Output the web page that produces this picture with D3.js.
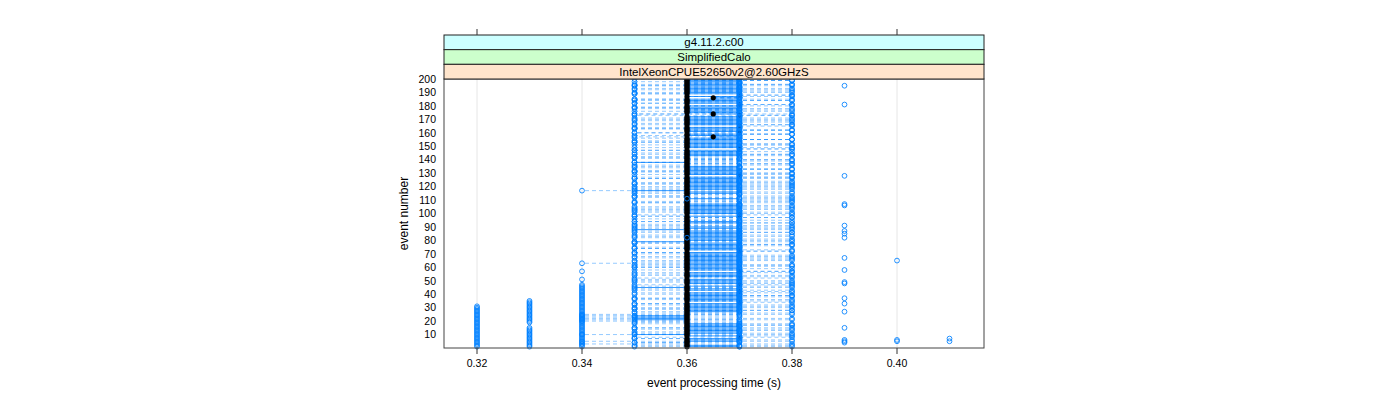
<!DOCTYPE html>
<html><head><meta charset="utf-8">
<script src="https://cdn.jsdelivr.net/npm/d3@7"></script>
<style>body{margin:0;background:#fff} svg{display:block} text{font-family:"Liberation Sans",Arial,sans-serif}</style>
</head><body><svg id="c" width="1400" height="400"></svg>
<script>
const stripLabels = ["g4.11.2.c00", "SimplifiedCalo", "IntelXeonCPUE52650v2@2.60GHzS"];
const stripColors = ["#ccffff", "#ccffcc", "#ffe5cc"];
const xTicks = [0.32, 0.34, 0.36, 0.38, 0.40];
const xTickLabels = ["0.32", "0.34", "0.36", "0.38", "0.40"];
const yTicks = [10,20,30,40,50,60,70,80,90,100,110,120,130,140,150,160,170,180,190,200];
const xTitle = "event processing time (s)";
const yTitle = "event number";

// times in hundredths of a second, index 0 = event 1
const refTime = [
36,36,36,36,36,36,36,37,36,36, 36,36,36,36,36,36,36,36,36,36,
36,36,36,36,36,36,36,36,36,36, 36,36,36,37,36,36,36,36,36,36,
36,37,36,36,36,36,37,36,36,36, 36,37,36,36,36,36,37,36,36,36,
36,36,36,36,36,36,36,36,36,36, 36,37,36,36,36,36,36,36,36,36,
36,36,36,36,36,36,36,36,36,36, 36,36,36,36,36,36,36,36,37,36,
36,36,36,36,36,36,36,36,36,36, 36,36,36,36,36,36,36,36,36,36,
36,36,36,36,36,36,36,37,36,36, 36,36,36,36,36,36,36,36,36,36,
36,36,36,36,36,36,36,37,36,36, 36,36,36,36,36,36,36.5,36,36,37,
36,36,36,36,37,36,36,36,36,36, 36,36,37,36.5,36,36,36,36,36,36,
37,36,36,36,36,36.5,36,37,36,36, 36,36,36,36,36,36,36,36,36,36];

const solidRun = [
37,37,null,null,37,37,37,37,37,35, 37,37,37,37,37,37,37,37,null,null,
35,35,35,35,null,null,37,37,37,37, 37,37,37,37,37,37,37,37,37,37,
37,37,37,37,35,37,37,37,37,37, 37,37,37,37,37,37,37,37,37,37,
37,37,37,37,37,37,37,37,37,37, 37,37,37,37,37,37,37,37,35,37,
37,37,37,37,37,37,37,35,37,37, null,null,37,37,null,null,null,37,37,37,
37,37,37,37,37,37,37,null,null,null, 37,null,null,null,37,37,35,37,37,37,
37,37,37,37,37,37,37,37,37,37, 37,37,37,37,37,null,null,35,null,null,
null,null,37,37,37,37,37,37,37,37, 37,37,37,37,37,37,37,37,37,37,
37,37,37,37,37,37,37,37,37,37, 37,37,37,37,37,37,37,37,37,37,
37,37,37,37,37,37,37,37,37,37, 37,37,37,37,37,37,37,37,37,37];

const dashRunA = [
35,38,34,37,34,38,35,37,38,34, 37,35,38,37,35,37,38,35,37,34,
34,34,34,34,34,37,35,38,37,35, 38,37,35,37,38,35,37,37,38,35,
37,38,35,37,37,38,35,37,38,37, 35,37,38,35,37,37,38,35,37,35,
38,37,34,35,37,38,37,35,38,37, 35,37,38,37,35,37,38,35,37,38,
37,36,35,38,37,35,37,38,35,37, 38,35,37,37,38,35,37,35,38,37,
35,37,38,35,37,38,37,35,37,38, 36,35,38,37,35,37,34,38,35,37,
38,35,37,38,37,35,38,37,35,38, 37,35,38,37,35,38,37,35,37,38,
35,37,38,35,37,38,35,37,38,37, 35,38,37,35,38,37,35,37,38,35,
37,38,35,37,38,35,37,38,37,35, 38,37,35,38,37,35,37,38,35,37,
38,35,37,38,35,37,38,37,35,38, 37,35,38,37,35,38,37,35,38,37];

const dashRunB = [
37,37,38,35,37,37,35,38,37,35, 38,37,37,35,38,37,37,38,35,37,
37,38,37,35,37,38,37,37,35,38, 37,35,37,38,37,37,35,38,37,37,
38,37,37,35,38,37,37,38,37,35, 37,38,37,37,35,38,37,37,38,37,
35,38,37,37,35,37,38,37,37,35, 37,38,37,35,37,37,38,37,35,37,
38,37,37,35,37,38,37,37,38,35, 37,37,38,35,37,37,38,37,35,37,
38,37,35,37,38,37,37,35,38,37, 37,38,35,37,37,38,37,35,37,38,
37,35,38,37,37,35,38,37,37,38, 35,37,38,37,37,35,38,37,38,37,
37,35,37,38,37,37,35,38,37,37, 38,37,35,37,38,37,37,35,38,37,
37,38,37,35,37,38,37,37,35,38, 37,37,38,35,37,38,37,37,35,37,
38,37,37,35,38,37,37,38,37,35, 37,38,37,37,35,38,37,37,38,37];

const dashRunC = [
38,35,null,35,38,null,37,35,null,38, 35,null,37,38,35,null,38,37,null,35,
38,null,35,37,38,35,null,38,35,37, null,38,35,null,37,38,35,null,38,37,
35,null,38,37,null,35,38,null,35,38, null,35,37,38,null,35,38,37,null,35,
38,35,null,37,38,null,35,38,37,null, 35,38,null,35,37,38,null,35,38,37,
null,35,38,37,null,38,35,null,37,38, 35,null,38,35,37,null,38,35,null,38,
37,35,null,38,35,37,null,38,35,null, 38,37,35,null,38,35,null,37,38,35,
null,38,35,37,null,38,35,null,38,37, 35,null,38,35,37,null,38,35,null,38,
37,35,null,38,35,37,null,38,35,null, 38,37,35,null,38,35,null,37,38,35,
null,38,35,37,null,38,35,null,38,37, 35,null,38,35,37,null,38,35,null,38,
37,35,null,38,35,37,null,38,35,null, 38,37,35,null,38,35,37,null,38,35];

// point-only runs (no connecting lines), index 0 = event 1
const fastRun32 = [32,32,32,32,32,32,32,32,32,32, 32,32,32,32,32,32,32,32,32,32, 32,32,32,32,32,32,32,32,32,32, 32];
const fastRun33 = [33,33,33,33,33,33,33,33,33,33, 33,33,33,33,33,null,null,null,33,33, 33,33,33,33,33,33,33,33,33,33, 33,33,33,33,33];
const fastRun34 = [34,34,34,34,34,34,34,34,34,34, 34,34,34,34,34,34,34,34,34,34, 34,34,34,34,34,34,34,34,34,34,
  34,34,34,34,34,34,34,34,34,34, 34,34,34,34,34,34,34,null,null,null, 34,null,null,null,null,null,34];
const outlierEvents = [195,181,128,107,106,91,87,85,82,67,58,49,48,37,33,27,15,6,5,4, 65,6,5, 7,5];
const outlierTimes  = [39,39,39,39,39,39,39,39,39,39,39,39,39,39,39,39,39,39,39,39, 40,40,40, 41,41];

const svg = d3.select("#c");
const L = 444, R = 984, T = 79, B = 348;
const x = d3.scaleLinear().domain([0.32 - 33/5250, 0.40 + 87/5250]).range([L, R]);
const y = d3.scaleLinear().domain([0, 200]).range([B, T]);
const blue = "#0080ff";

// grid
svg.append("g").selectAll("line").data(xTicks).join("line")
  .attr("x1", d => x(d)).attr("x2", d => x(d)).attr("y1", T).attr("y2", B)
  .attr("stroke", "#e6e6e6").attr("stroke-width", 1);

// spokes from reference time to each connected run value
const plot = svg.append("g");
function spokes(run, dashed, op) {
  const segs = [];
  run.forEach((v, i) => { if (v != null && v !== refTime[i]) segs.push({e: i + 1, a: refTime[i] / 100, b: v / 100}); });
  plot.append("g").selectAll("line").data(segs).join("line")
    .attr("x1", d => x(d.a)).attr("x2", d => x(d.b))
    .attr("y1", d => y(d.e)).attr("y2", d => y(d.e))
    .attr("stroke", blue).attr("stroke-opacity", op).attr("stroke-width", 1)
    .attr("stroke-dasharray", dashed ? "4,3" : null);
}
spokes(dashRunA, true, 0.42);
spokes(dashRunB, true, 0.42);
spokes(dashRunC, true, 0.42);
spokes(solidRun, false, 0.8);

// reference points (black filled)
plot.append("g").selectAll("circle").data(refTime.map((v, i) => ({e: i + 1, t: v / 100}))).join("circle")
  .attr("cx", d => x(d.t)).attr("cy", d => y(d.e)).attr("r", 2.6).attr("fill", "#000");

// blue open circles
function pts(run) {
  const p = [];
  run.forEach((v, i) => { if (v != null) p.push({e: i + 1, t: v / 100}); });
  return p;
}
const allPts = [].concat(pts(fastRun32), pts(fastRun33), pts(fastRun34), pts(dashRunA), pts(dashRunB), pts(dashRunC), pts(solidRun),
  outlierEvents.map((e, i) => ({e: e, t: outlierTimes[i] / 100})));
plot.append("g").selectAll("circle").data(allPts).join("circle")
  .attr("cx", d => x(d.t)).attr("cy", d => y(d.e)).attr("r", 2.4)
  .attr("fill", "none").attr("stroke", blue).attr("stroke-opacity", 0.85).attr("stroke-width", 1);

// panel border
svg.append("rect").attr("x", L).attr("y", T).attr("width", R - L).attr("height", B - T)
  .attr("fill", "none").attr("stroke", "#444").attr("stroke-width", 1);

// strips
const sh = (T - 35) / 3;
stripLabels.forEach((lab, i) => {
  const sy = 35 + i * sh;
  svg.append("rect").attr("x", L).attr("y", sy).attr("width", R - L).attr("height", sh)
    .attr("fill", stripColors[i]).attr("stroke", "#222").attr("stroke-width", 1);
  svg.append("text").attr("x", (L + R) / 2).attr("y", sy + sh / 2).attr("dy", "0.36em")
    .attr("text-anchor", "middle").attr("font-size", 11.5).attr("fill", "#000").text(lab);
});

// x axis ticks: bottom and top
const ax = svg.append("g");
ax.selectAll("line.b").data(xTicks).join("line").attr("class", "b")
  .attr("x1", d => x(d)).attr("x2", d => x(d)).attr("y1", B).attr("y2", B + 6).attr("stroke", "#333");
ax.selectAll("line.t").data(xTicks).join("line").attr("class", "t")
  .attr("x1", d => x(d)).attr("x2", d => x(d)).attr("y1", 29).attr("y2", 35).attr("stroke", "#333");
ax.selectAll("text").data(xTicks).join("text")
  .attr("x", d => x(d)).attr("y", 363).attr("dy", "0.36em").attr("text-anchor", "middle")
  .attr("font-size", 10.5).text((d, i) => xTickLabels[i]);

// y labels
svg.append("g").selectAll("text").data(yTicks).join("text")
  .attr("x", 436).attr("y", d => y(d)).attr("dy", "0.36em").attr("text-anchor", "end")
  .attr("font-size", 10.5).text(d => d);

// titles
svg.append("text").attr("x", (L + R) / 2).attr("y", 383).attr("dy", "0.36em").attr("text-anchor", "middle")
  .attr("font-size", 12).text(xTitle);
svg.append("text").attr("transform", `translate(404,${(T + B) / 2}) rotate(-90)`).attr("dy", "0.36em")
  .attr("text-anchor", "middle").attr("font-size", 12).text(yTitle);
</script></body></html>
